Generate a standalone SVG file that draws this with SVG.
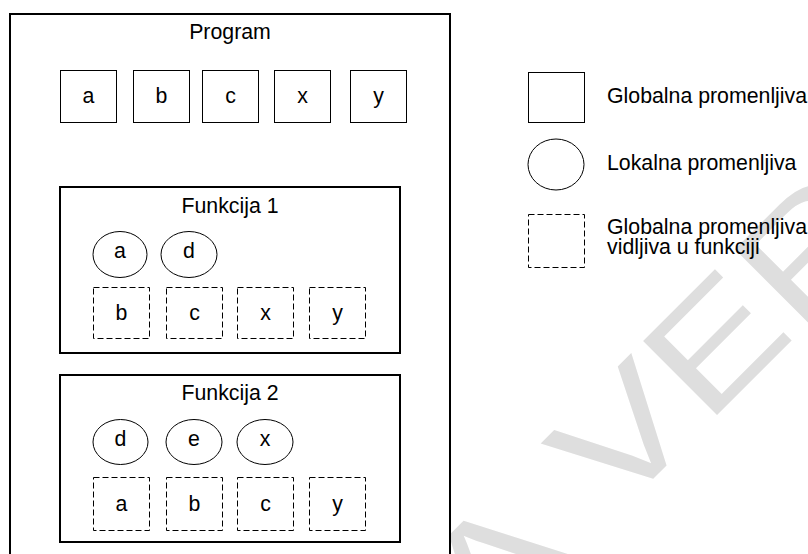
<svg xmlns="http://www.w3.org/2000/svg" width="808" height="554" viewBox="0 0 808 554">
  <style>
    text { font-family: "Liberation Sans", Arial, sans-serif; font-size: 21.3px; fill: #000; }
    .c { text-anchor: middle; }
    .var { fill: #fff; stroke: #000; stroke-width: 1; }
    .vis { fill: #fff; stroke: #000; stroke-width: 1; stroke-dasharray: 6 3; }
    .frame { fill: #fff; stroke: #000; stroke-width: 2; }
    .wm { font-size: 152px; fill: #dedede; font-kerning: none; }
  </style>

  <rect width="808" height="554" fill="#fff"/>

  <!-- background stamp -->
  <text class="wm" transform="translate(484.1,647.9) rotate(-45) scale(1.28,1)">A VER</text>

  <!-- program scope -->
  <g id="program">
    <rect class="frame" x="10" y="14" width="440" height="570"/>
    <text class="c" x="230" y="39">Program</text>
  </g>

  <!-- global variables -->
  <g id="g-a"><rect class="var" x="60.5" y="70.5" width="56" height="52"/><text class="c" x="88.5" y="103">a</text></g>
  <g id="g-b"><rect class="var" x="133.5" y="70.5" width="56" height="52"/><text class="c" x="161.5" y="103">b</text></g>
  <g id="g-c"><rect class="var" x="202.5" y="70.5" width="56" height="52"/><text class="c" x="230.5" y="103">c</text></g>
  <g id="g-x"><rect class="var" x="274.5" y="70.5" width="56" height="52"/><text class="c" x="302.5" y="103">x</text></g>
  <g id="g-y"><rect class="var" x="350.5" y="70.5" width="56" height="52"/><text class="c" x="378.5" y="103">y</text></g>

  <!-- function 1 -->
  <g id="funkcija1">
    <rect class="frame" x="60" y="187" width="340" height="166"/>
    <text class="c" x="230" y="213">Funkcija 1</text>
  </g>
  <g id="f1-a"><ellipse class="var" cx="120" cy="254.5" rx="27" ry="23"/><text class="c" x="120" y="258">a</text></g>
  <g id="f1-d"><ellipse class="var" cx="189" cy="254.5" rx="28" ry="23"/><text class="c" x="189" y="258">d</text></g>
  <g id="f1-b"><rect class="vis" x="93.5" y="287.5" width="56" height="51"/><text class="c" x="121.5" y="320">b</text></g>
  <g id="f1-c"><rect class="vis" x="166.5" y="287.5" width="56" height="51"/><text class="c" x="194.5" y="320">c</text></g>
  <g id="f1-x"><rect class="vis" x="237.5" y="287.5" width="56" height="51"/><text class="c" x="265.5" y="320">x</text></g>
  <g id="f1-y"><rect class="vis" x="309.5" y="287.5" width="56" height="51"/><text class="c" x="337.5" y="320">y</text></g>

  <!-- function 2 -->
  <g id="funkcija2">
    <rect class="frame" x="60" y="375" width="340" height="167"/>
    <text class="c" x="230" y="400">Funkcija 2</text>
  </g>
  <g id="f2-d"><ellipse class="var" cx="120.5" cy="442" rx="27.5" ry="22.5"/><text class="c" x="120.5" y="446">d</text></g>
  <g id="f2-e"><ellipse class="var" cx="194" cy="442" rx="28" ry="22.5"/><text class="c" x="194" y="446">e</text></g>
  <g id="f2-x"><ellipse class="var" cx="265" cy="442" rx="28" ry="22.5"/><text class="c" x="265" y="446">x</text></g>
  <g id="f2-a"><rect class="vis" x="93.5" y="477.5" width="56" height="53"/><text class="c" x="121.5" y="511">a</text></g>
  <g id="f2-b"><rect class="vis" x="166.5" y="477.5" width="56" height="53"/><text class="c" x="194.5" y="511">b</text></g>
  <g id="f2-c"><rect class="vis" x="237.5" y="477.5" width="56" height="53"/><text class="c" x="265.5" y="511">c</text></g>
  <g id="f2-y"><rect class="vis" x="309.5" y="477.5" width="56" height="53"/><text class="c" x="337.5" y="511">y</text></g>

  <!-- connectors (none in this layout) -->
  <g id="connectors"/>

  <!-- legend -->
  <g id="legend-global">
    <rect class="var" x="528.5" y="72.5" width="56" height="50"/>
    <text x="607" y="102.5">Globalna promenljiva</text>
  </g>
  <g id="legend-local">
    <ellipse class="var" cx="556" cy="164.5" rx="28" ry="25.5"/>
    <text x="607" y="170">Lokalna promenljiva</text>
  </g>
  <g id="legend-visible">
    <rect class="vis" x="528.5" y="214.5" width="56" height="53"/>
    <text x="607" y="233.5">Globalna promenljiva</text>
    <text x="607" y="254">vidljiva u funkciji</text>
  </g>
</svg>
